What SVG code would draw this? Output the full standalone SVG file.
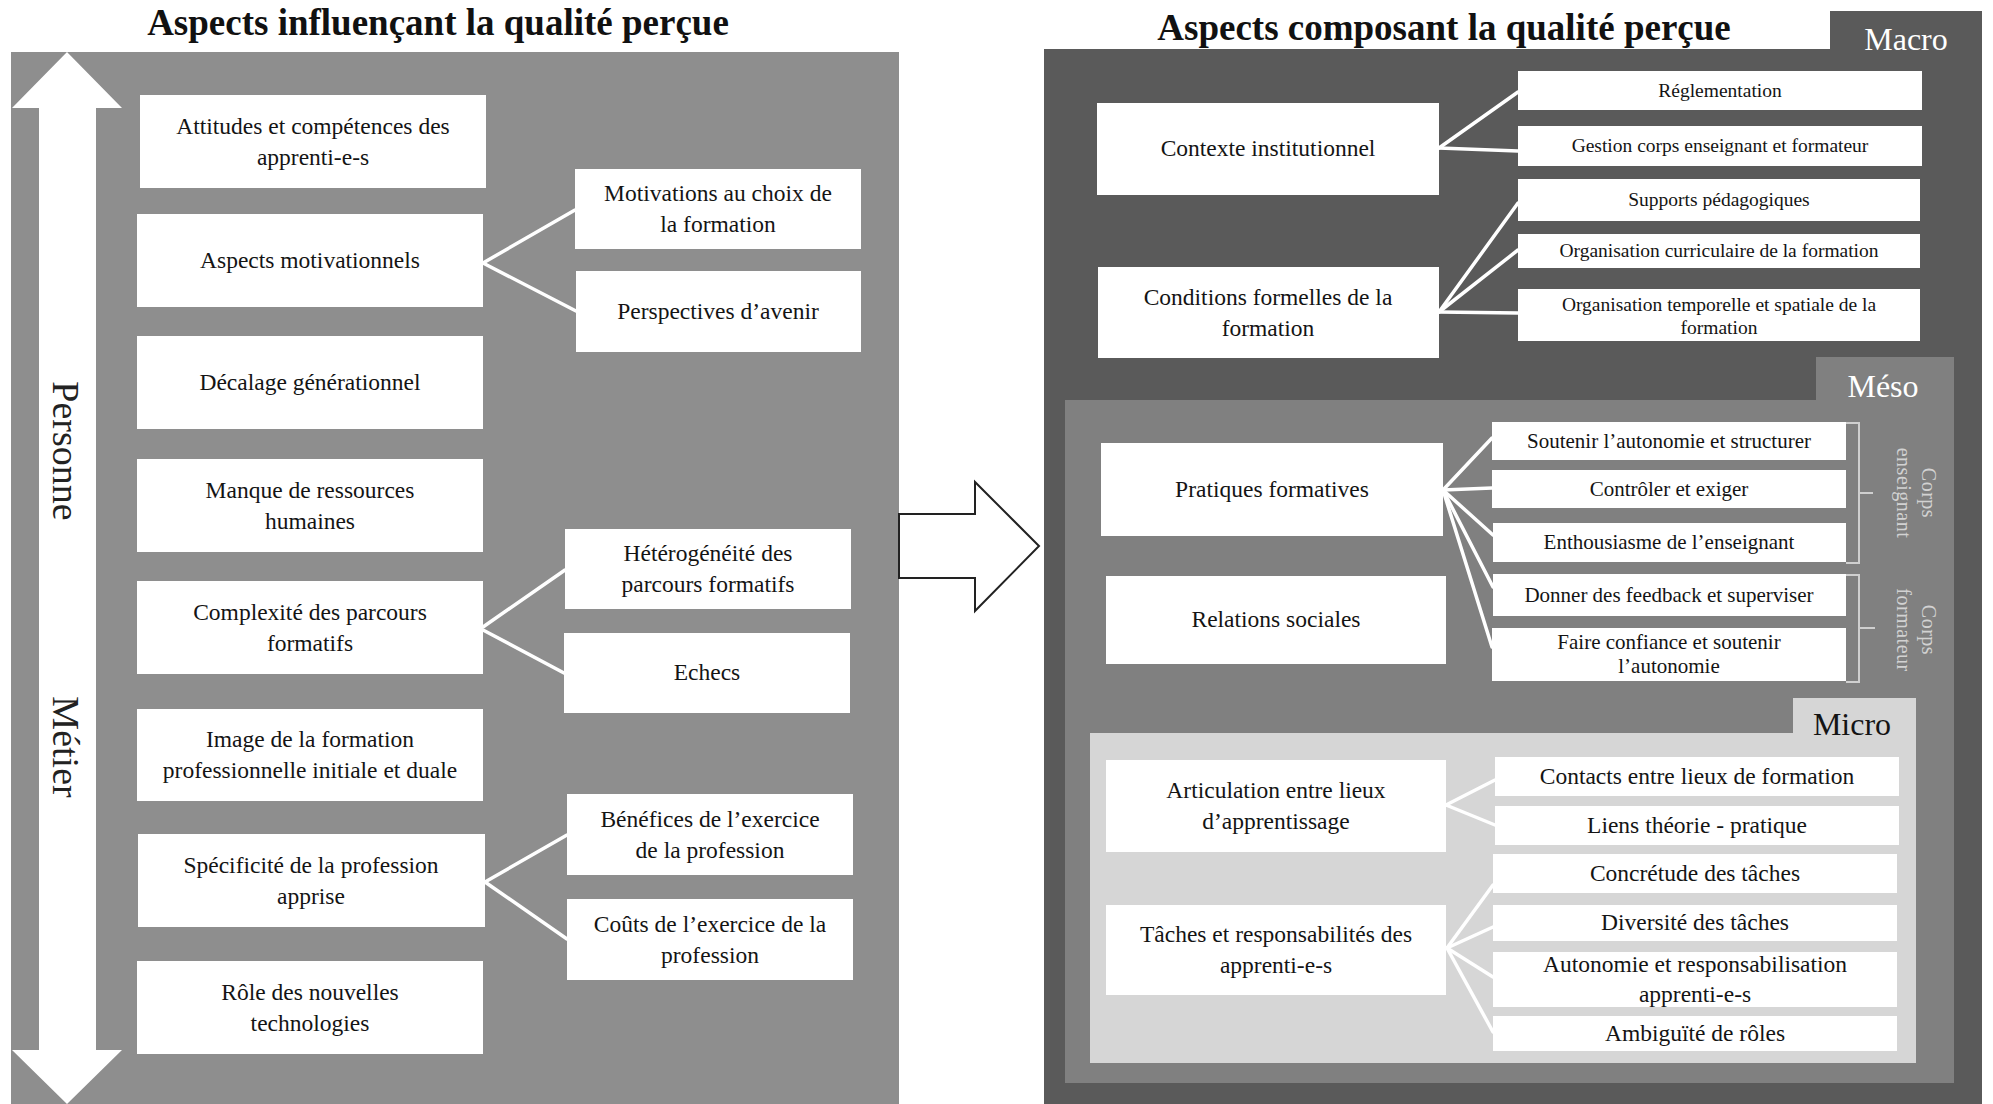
<svg xmlns="http://www.w3.org/2000/svg" width="1993" height="1104" viewBox="0 0 1993 1104">
  <style>
    .box { fill: #ffffff; }
    .t { font-family: "Liberation Serif", "Times New Roman", serif; fill: #141414; text-anchor: middle; }
    .f23 { font-size: 23.5px; }
    .f21 { font-size: 21px; }
    .f19 { font-size: 19.5px; }
    .title { font-family: "Liberation Serif", "Times New Roman", serif; font-weight: bold; font-size: 37px; fill: #111; text-anchor: middle; }
    .tab { font-family: "Liberation Serif", "Times New Roman", serif; font-size: 32px; text-anchor: middle; }
    .axis { font-family: "Liberation Serif", "Times New Roman", serif; font-size: 38px; fill: #222; text-anchor: middle; }
    .corps { font-family: "Liberation Serif", "Times New Roman", serif; font-size: 20px; fill: #d2d2d2; text-anchor: middle; letter-spacing: 0.5px; }
    .conn line { stroke: #ffffff; stroke-width: 3.5; stroke-linecap: round; }
    .bracket { fill: none; stroke: #cfcfcf; stroke-width: 2; }
  </style>

  <rect width="1993" height="1104" fill="#ffffff"/>

  <!-- Titles -->
  <text class="title" x="438" y="35">Aspects influençant la qualité perçue</text>
  <text class="title" x="1444" y="40">Aspects composant la qualité perçue</text>

  <!-- Left panel: influencing aspects -->
  <g id="panel-influence">
    <rect x="11" y="52" width="888" height="1052" fill="#8e8e8e"/>
    <polygon points="67,52 122,108 96,108 96,1050 122,1050 67,1104 12,1050 39,1050 39,108 12,108" fill="#ffffff"/>
    <text class="axis" transform="translate(53,451) rotate(90)">Personne</text>
    <text class="axis" transform="translate(53,747) rotate(90)">Métier</text>
  </g>

  <!-- Hollow arrow between the two panels -->
  <g id="transition-arrow">
    <polygon points="899,514 975,514 975,482 1039,546 975,611 975,578 899,578" fill="#ffffff" stroke="#222" stroke-width="2" stroke-linejoin="miter"/>
  </g>

  <!-- Right panel: nested levels -->
  <g id="level-macro">
    <path d="M1044,49 H1830 V11 H1982 V1104 H1044 Z" fill="#5a5a5a"/>
    <text class="tab" x="1906" y="50" fill="#ffffff">Macro</text>
  </g>
  <g id="level-meso">
    <path d="M1065,400 H1816 V357 H1954 V1083 H1065 Z" fill="#808080"/>
    <text class="tab" x="1883" y="397" fill="#ffffff">Méso</text>
  </g>
  <g id="level-micro">
    <path d="M1090,733 H1793 V698 H1916 V1063 H1090 Z" fill="#d6d6d6"/>
    <text class="tab" x="1852" y="735" fill="#141414">Micro</text>
  </g>

  <!-- Connectors -->
  <g id="connectors" class="conn">
    <line x1="483" y1="263" x2="575" y2="210"/>
    <line x1="483" y1="263" x2="576" y2="311"/>
    <line x1="483" y1="627" x2="565" y2="570"/>
    <line x1="483" y1="630" x2="564" y2="673"/>
    <line x1="485" y1="882" x2="567" y2="835"/>
    <line x1="485" y1="882" x2="567" y2="939"/>

    <line x1="1439" y1="148" x2="1518" y2="92"/>
    <line x1="1439" y1="148" x2="1518" y2="151"/>
    <line x1="1439" y1="312" x2="1518" y2="203"/>
    <line x1="1439" y1="312" x2="1518" y2="250"/>
    <line x1="1439" y1="312" x2="1518" y2="313"/>

    <line x1="1443" y1="490" x2="1492" y2="438"/>
    <line x1="1443" y1="490" x2="1492" y2="488"/>
    <line x1="1443" y1="490" x2="1493" y2="535"/>
    <line x1="1443" y1="490" x2="1493" y2="587"/>
    <line x1="1443" y1="490" x2="1492" y2="647"/>

    <line x1="1446" y1="805" x2="1495" y2="780"/>
    <line x1="1446" y1="805" x2="1495" y2="825"/>
    <line x1="1447" y1="948" x2="1493" y2="885"/>
    <line x1="1447" y1="948" x2="1493" y2="927"/>
    <line x1="1447" y1="948" x2="1493" y2="977"/>
    <line x1="1447" y1="948" x2="1493" y2="1032"/>
  </g>

  <!-- Left nodes -->
  <g id="n-attitudes"><rect class="box" x="140" y="95" width="346" height="93"/>
    <text class="t f23" x="313" y="134">Attitudes et compétences des</text><text class="t f23" x="313" y="165">apprenti-e-s</text></g>
  <g id="n-motivationnels"><rect class="box" x="137" y="214" width="346" height="93"/>
    <text class="t f23" x="310" y="268">Aspects motivationnels</text></g>
  <g id="n-decalage"><rect class="box" x="137" y="336" width="346" height="93"/>
    <text class="t f23" x="310" y="390">Décalage générationnel</text></g>
  <g id="n-ressources"><rect class="box" x="137" y="459" width="346" height="93"/>
    <text class="t f23" x="310" y="498">Manque de ressources</text><text class="t f23" x="310" y="529">humaines</text></g>
  <g id="n-complexite"><rect class="box" x="137" y="581" width="346" height="93"/>
    <text class="t f23" x="310" y="620">Complexité des parcours</text><text class="t f23" x="310" y="651">formatifs</text></g>
  <g id="n-image"><rect class="box" x="137" y="709" width="346" height="92"/>
    <text class="t f23" x="310" y="747">Image de la formation</text><text class="t f23" x="310" y="778">professionnelle initiale et duale</text></g>
  <g id="n-specificite"><rect class="box" x="138" y="834" width="347" height="93"/>
    <text class="t f23" x="311" y="873">Spécificité de la profession</text><text class="t f23" x="311" y="904">apprise</text></g>
  <g id="n-technologies"><rect class="box" x="137" y="961" width="346" height="93"/>
    <text class="t f23" x="310" y="1000">Rôle des nouvelles</text><text class="t f23" x="310" y="1031">technologies</text></g>

  <g id="n-motivations-choix"><rect class="box" x="575" y="169" width="286" height="80"/>
    <text class="t f23" x="718" y="201">Motivations au choix de</text><text class="t f23" x="718" y="232">la formation</text></g>
  <g id="n-perspectives"><rect class="box" x="576" y="271" width="285" height="81"/>
    <text class="t f23" x="718" y="319">Perspectives d’avenir</text></g>
  <g id="n-heterogeneite"><rect class="box" x="565" y="529" width="286" height="80"/>
    <text class="t f23" x="708" y="561">Hétérogénéité des</text><text class="t f23" x="708" y="592">parcours formatifs</text></g>
  <g id="n-echecs"><rect class="box" x="564" y="633" width="286" height="80"/>
    <text class="t f23" x="707" y="680">Echecs</text></g>
  <g id="n-benefices"><rect class="box" x="567" y="794" width="286" height="81"/>
    <text class="t f23" x="710" y="827">Bénéfices de l’exercice</text><text class="t f23" x="710" y="858">de la profession</text></g>
  <g id="n-couts"><rect class="box" x="567" y="899" width="286" height="81"/>
    <text class="t f23" x="710" y="932">Coûts de l’exercice de la</text><text class="t f23" x="710" y="963">profession</text></g>

  <!-- Macro nodes -->
  <g id="n-contexte"><rect class="box" x="1097" y="103" width="342" height="92"/>
    <text class="t f23" x="1268" y="156">Contexte institutionnel</text></g>
  <g id="n-conditions"><rect class="box" x="1098" y="267" width="341" height="91"/>
    <text class="t f23" x="1268" y="305">Conditions formelles de la</text><text class="t f23" x="1268" y="336">formation</text></g>
  <g id="n-reglementation"><rect class="box" x="1518" y="71" width="404" height="39"/>
    <text class="t f19" x="1720" y="97">Réglementation</text></g>
  <g id="n-gestion"><rect class="box" x="1518" y="126" width="404" height="40"/>
    <text class="t f19" x="1720" y="152">Gestion corps enseignant et formateur</text></g>
  <g id="n-supports"><rect class="box" x="1518" y="179" width="402" height="42"/>
    <text class="t f19" x="1719" y="206">Supports pédagogiques</text></g>
  <g id="n-org-curriculaire"><rect class="box" x="1518" y="234" width="402" height="34"/>
    <text class="t f19" x="1719" y="257">Organisation curriculaire de la formation</text></g>
  <g id="n-org-temporelle"><rect class="box" x="1518" y="289" width="402" height="52"/>
    <text class="t f19" x="1719" y="311">Organisation temporelle et spatiale de la</text><text class="t f19" x="1719" y="334">formation</text></g>

  <!-- Meso nodes -->
  <g id="n-pratiques"><rect class="box" x="1101" y="443" width="342" height="93"/>
    <text class="t f23" x="1272" y="497">Pratiques formatives</text></g>
  <g id="n-relations"><rect class="box" x="1106" y="576" width="340" height="88"/>
    <text class="t f23" x="1276" y="627">Relations sociales</text></g>
  <g id="n-soutenir"><rect class="box" x="1492" y="422" width="354" height="38"/>
    <text class="t f21" x="1669" y="448">Soutenir l’autonomie et structurer</text></g>
  <g id="n-controler"><rect class="box" x="1492" y="470" width="354" height="38"/>
    <text class="t f21" x="1669" y="496">Contrôler et exiger</text></g>
  <g id="n-enthousiasme"><rect class="box" x="1493" y="523" width="353" height="39"/>
    <text class="t f21" x="1669" y="549">Enthousiasme de l’enseignant</text></g>
  <g id="n-feedback"><rect class="box" x="1493" y="574" width="353" height="42"/>
    <text class="t f21" x="1669" y="602">Donner des feedback et superviser</text></g>
  <g id="n-confiance"><rect class="box" x="1492" y="628" width="354" height="53"/>
    <text class="t f21" x="1669" y="649">Faire confiance et soutenir</text><text class="t f21" x="1669" y="673">l’autonomie</text></g>

  <!-- Groupings of meso practices -->
  <g id="grp-enseignant">
    <path class="bracket" d="M1846,423 H1859 V563 H1846 M1859,493 H1873"/>
    <text class="corps" transform="translate(1922,493) rotate(90)">Corps</text>
    <text class="corps" transform="translate(1897,493) rotate(90)">enseignant</text>
  </g>
  <g id="grp-formateur">
    <path class="bracket" d="M1846,575 H1859 V682 H1846 M1859,628 H1875"/>
    <text class="corps" transform="translate(1922,630) rotate(90)">Corps</text>
    <text class="corps" transform="translate(1897,630) rotate(90)">formateur</text>
  </g>

  <!-- Micro nodes -->
  <g id="n-articulation"><rect class="box" x="1106" y="760" width="340" height="92"/>
    <text class="t f23" x="1276" y="798">Articulation entre lieux</text><text class="t f23" x="1276" y="829">d’apprentissage</text></g>
  <g id="n-taches"><rect class="box" x="1106" y="905" width="340" height="90"/>
    <text class="t f23" x="1276" y="942">Tâches et responsabilités des</text><text class="t f23" x="1276" y="973">apprenti-e-s</text></g>
  <g id="n-contacts"><rect class="box" x="1495" y="757" width="404" height="39"/>
    <text class="t f23" x="1697" y="784">Contacts entre lieux de formation</text></g>
  <g id="n-liens"><rect class="box" x="1495" y="806" width="404" height="39"/>
    <text class="t f23" x="1697" y="833">Liens théorie - pratique</text></g>
  <g id="n-concretude"><rect class="box" x="1493" y="854" width="404" height="39"/>
    <text class="t f23" x="1695" y="881">Concrétude des tâches</text></g>
  <g id="n-diversite"><rect class="box" x="1493" y="905" width="404" height="36"/>
    <text class="t f23" x="1695" y="930">Diversité des tâches</text></g>
  <g id="n-autonomie"><rect class="box" x="1493" y="952" width="404" height="55"/>
    <text class="t f23" x="1695" y="972">Autonomie et responsabilisation</text><text class="t f23" x="1695" y="1002">apprenti-e-s</text></g>
  <g id="n-ambiguite"><rect class="box" x="1493" y="1016" width="404" height="35"/>
    <text class="t f23" x="1695" y="1041">Ambiguïté de rôles</text></g>
</svg>
